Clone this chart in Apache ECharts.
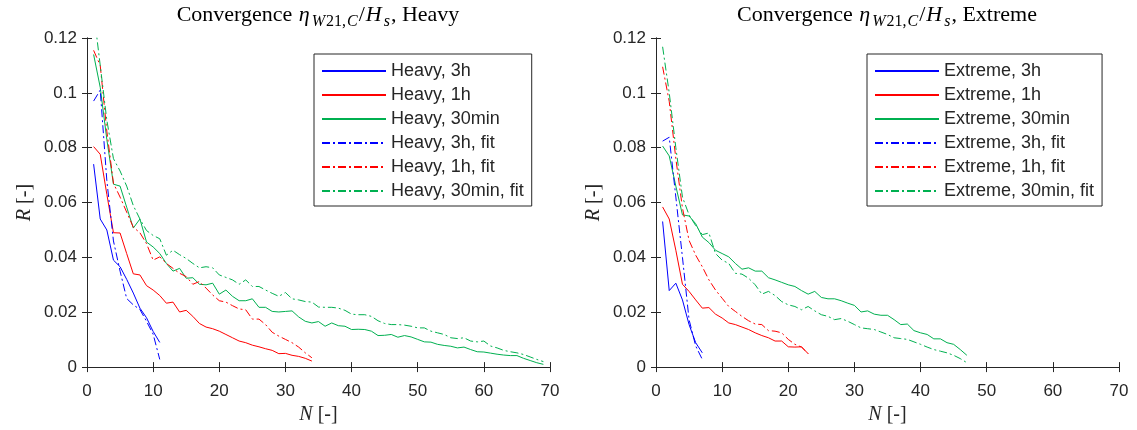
<!DOCTYPE html>
<html>
<head>
<meta charset="utf-8">
<title>Convergence</title>
<script src="https://cdn.jsdelivr.net/npm/echarts@6/dist/echarts.min.js"></script>
<style>
  html, body { margin: 0; padding: 0; background: #fff; }
  #chart { width: 1137px; height: 430px; }
</style>
</head>
<body>
<div id="chart"></div>
<script>
// R, one value per N = 1, 2, 3, ...
const heavy3h = [0.074, 0.054, 0.050, 0.039, 0.0366, 0.032, 0.027, 0.0215, 0.018, 0.013, 0.009];
const heavy1h = [
  0.0804, 0.0776, 0.063, 0.049, 0.0489, 0.0414, 0.034, 0.0336, 0.0297, 0.0281,
  0.0261, 0.0233, 0.0237, 0.0201, 0.0207, 0.0185, 0.0159, 0.0146, 0.014, 0.0131,
  0.0119, 0.0107, 0.0095, 0.0089, 0.008, 0.0074, 0.0067, 0.0061, 0.0049, 0.005,
  0.0043, 0.0039, 0.0032, 0.0022
];
const heavy30min = [
  0.114, 0.102, 0.083, 0.0667, 0.066, 0.0583, 0.0507, 0.054, 0.0456, 0.0438,
  0.0414, 0.0378, 0.035, 0.036, 0.0324, 0.0326, 0.0302, 0.030, 0.0306, 0.0266,
  0.0281, 0.0258, 0.0242, 0.0242, 0.0249, 0.0218, 0.0218, 0.0203, 0.0201, 0.0203,
  0.0205, 0.0183, 0.0167, 0.0161, 0.0166, 0.0149, 0.0161, 0.0151, 0.0149, 0.0137,
  0.0138, 0.0137, 0.0131, 0.0115, 0.0116, 0.0119, 0.0109, 0.0115, 0.011, 0.0101,
  0.0092, 0.0091, 0.0083, 0.0079, 0.0076, 0.007, 0.0073, 0.0064, 0.0056, 0.0055,
  0.0051, 0.0047, 0.0044, 0.0042, 0.0042, 0.0032, 0.0024, 0.0016, 0.001
];
const heavy3hFit = [0.097, 0.101, 0.068, 0.046, 0.035, 0.025, 0.0227, 0.021, 0.0167, 0.012, 0.0028];
const heavy1hFit = [
  0.1155, 0.110, 0.086, 0.067, 0.062, 0.0565, 0.051, 0.049, 0.045, 0.039,
  0.0402, 0.0378, 0.036, 0.0342, 0.033, 0.0302, 0.0312, 0.0288, 0.0263, 0.0242,
  0.0237, 0.0224, 0.0212, 0.0209, 0.0175, 0.0175, 0.0155, 0.0127, 0.0113, 0.0101,
  0.0089, 0.0073, 0.0052, 0.0034
];
const heavy30minFit = [
  0.13, 0.11, 0.09, 0.076, 0.0715, 0.066, 0.0589, 0.054, 0.0498, 0.048,
  0.0468, 0.0408, 0.0426, 0.041, 0.0396, 0.0378, 0.0362, 0.0366, 0.0362, 0.0336,
  0.0327, 0.0318, 0.0302, 0.0318, 0.0294, 0.0294, 0.0281, 0.0269, 0.0258, 0.0272,
  0.0249, 0.0245, 0.0239, 0.0237, 0.0219, 0.0218, 0.0218, 0.0215, 0.0207, 0.0193,
  0.0191, 0.0191, 0.0185, 0.0169, 0.0159, 0.0155, 0.0155, 0.0153, 0.0149, 0.0143,
  0.0143, 0.0131, 0.0125, 0.0119, 0.0107, 0.0104, 0.0107, 0.0095, 0.0092, 0.0095,
  0.0077, 0.007, 0.0061, 0.0056, 0.0052, 0.0046, 0.0037, 0.0028, 0.002
];

const extreme3h = [0.0531, 0.0279, 0.0306, 0.0245, 0.0155, 0.0089, 0.0052];
const extreme1h = [
  0.0584, 0.054, 0.0426, 0.0302, 0.0276, 0.0245, 0.0215, 0.0217, 0.0193, 0.0179,
  0.0161, 0.0155, 0.0146, 0.0137, 0.0125, 0.0115, 0.0107, 0.0095, 0.0095, 0.0074,
  0.0073, 0.0074, 0.0049
];
const extreme30min = [
  0.0806, 0.077, 0.066, 0.0555, 0.0551, 0.0523, 0.0474, 0.0454, 0.0426, 0.0414,
  0.0402, 0.0378, 0.0357, 0.0362, 0.035, 0.035, 0.0326, 0.0318, 0.0309, 0.030,
  0.0294, 0.0279, 0.0266, 0.0276, 0.0254, 0.0249, 0.0249, 0.0242, 0.0233, 0.0225,
  0.0201, 0.0205, 0.0193, 0.0189, 0.0189, 0.0173, 0.0155, 0.0157, 0.0133, 0.0125,
  0.0119, 0.0103, 0.0103, 0.0089, 0.0083, 0.0064, 0.0043
];
const extreme3hFit = [0.0824, 0.0838, 0.062, 0.040, 0.0173, 0.0077, 0.0028];
const extreme1hFit = [
  0.1095, 0.0969, 0.076, 0.058, 0.0462, 0.0408, 0.0366, 0.0318, 0.0281, 0.0251,
  0.0221, 0.0203, 0.0185, 0.0169, 0.0157, 0.0155, 0.0133, 0.0131, 0.0125, 0.0101,
  0.0083, 0.0073, 0.0049
];
const extreme30minFit = [
  0.1168, 0.100, 0.080, 0.062, 0.0555, 0.0516, 0.0483, 0.0489, 0.0414, 0.039,
  0.0378, 0.0342, 0.0339, 0.0324, 0.030, 0.0266, 0.0276, 0.0261, 0.0239, 0.0227,
  0.0221, 0.0209, 0.0221, 0.0205, 0.0191, 0.0185, 0.0173, 0.0177, 0.0167, 0.0155,
  0.0143, 0.014, 0.0137, 0.0128, 0.0119, 0.0107, 0.0104, 0.0101, 0.0092, 0.0083,
  0.0073, 0.0064, 0.0058, 0.0052, 0.0043, 0.0031, 0.0016
];

// axis ranges / ticks
const xMax = 70, xStep = 10;
const yMax = 0.12, yStep = 0.02;

const BLUE = '#0000ff', RED = '#ff0000', GREEN = '#00b050';
const INK = '#262626';
const DASHDOT = [8, 3, 2, 3];

function line(name, values, color, fit, g) {
    return {
        type: 'line',
        name: name,
        xAxisIndex: g * 2,
        yAxisIndex: g * 2,
        data: values.map((v, i) => [i + 1, v]),
        symbol: 'none',
        showSymbol: false,
        lineStyle: { color: color, width: 1, type: fit ? DASHDOT : 'solid' },
        itemStyle: { color: color },
        emphasis: { disabled: true },
        silent: true
    };
}

const mathRich = {
    i: { fontStyle: 'italic', fontFamily: 'Liberation Serif', fontSize: 20, color: INK }
};

function axesFor(g) {
    const tick = { inside: true, length: 5, lineStyle: { color: INK } };
    const axLine = { lineStyle: { color: INK, width: 1 } };
    return {
        x: [
            {
                type: 'value', gridIndex: g, min: 0, max: xMax, interval: xStep,
                axisLine: axLine, axisTick: tick, splitLine: { show: false },
                axisLabel: { color: INK, fontSize: 17, fontFamily: 'Liberation Sans', margin: 16 },
                name: '{i|N} [-]', nameLocation: 'middle', nameGap: 35,
                nameTextStyle: { fontFamily: 'Liberation Serif', fontSize: 20, color: INK, rich: mathRich }
            },
            {
                type: 'value', gridIndex: g, position: 'top', min: 0, max: xMax, interval: xStep,
                axisLine: axLine, axisTick: tick, splitLine: { show: false }, axisLabel: { show: false }
            }
        ],
        y: [
            {
                type: 'value', gridIndex: g, min: 0, max: yMax, interval: yStep,
                axisLine: { show: true, lineStyle: { color: INK, width: 1 } }, axisTick: { show: true, inside: true, length: 5, lineStyle: { color: INK } },
                splitLine: { show: false },
                axisLabel: {
                    color: INK, fontSize: 17, fontFamily: 'Liberation Sans', margin: 10,
                    formatter: v => String(parseFloat(v.toFixed(2)))
                },
                name: '{i|R} [-]', nameLocation: 'middle', nameGap: 52,
                nameTextStyle: { fontFamily: 'Liberation Serif', fontSize: 20, color: INK, rich: mathRich }
            },
            {
                type: 'value', gridIndex: g, position: 'right', min: 0, max: yMax, interval: yStep,
                axisLine: { show: true, lineStyle: { color: INK, width: 1 } }, axisTick: { show: true, inside: true, length: 5, lineStyle: { color: INK } },
                splitLine: { show: false }, axisLabel: { show: false }
            }
        ]
    };
}

function titleFor(left, tail) {
    return {
        text: 'Convergence {i|η}{si|W}{s|21,}{si|C}/{i|H}{si|s}, ' + tail,
        left: left, top: 0, textAlign: 'center', padding: 0,
        textStyle: {
            fontFamily: 'Liberation Serif', fontSize: 22, fontWeight: 'normal', color: '#000', lineHeight: 30,
            rich: {
                i: { fontFamily: 'Liberation Serif', fontSize: 22, fontStyle: 'italic', color: '#000', lineHeight: 30, padding: [0, 1, 0, 1] },
                s: { fontFamily: 'Liberation Serif', fontSize: 16, color: '#000', lineHeight: 16, verticalAlign: 'bottom' },
                si: { fontFamily: 'Liberation Serif', fontSize: 16, fontStyle: 'italic', color: '#000', lineHeight: 16, verticalAlign: 'bottom', padding: [0, 1, 0, 1] }
            }
        }
    };
}

function legendFor(left, names) {
    return {
        left: left, top: 54, orient: 'vertical',
        data: names,
        itemWidth: 64, itemHeight: 12, itemGap: 6,
        itemStyle: { opacity: 0 },
        textStyle: { fontFamily: 'Liberation Sans', fontSize: 18, lineHeight: 18, color: INK },
        borderColor: INK, borderWidth: 1, borderRadius: 0,
        backgroundColor: '#fff',
        padding: [8, 8, 6, 7],
        selectedMode: false
    };
}

const heavyNames = ['Heavy, 3h', 'Heavy, 1h', 'Heavy, 30min', 'Heavy, 3h, fit', 'Heavy, 1h, fit', 'Heavy, 30min, fit'];
const extremeNames = ['Extreme, 3h', 'Extreme, 1h', 'Extreme, 30min', 'Extreme, 3h, fit', 'Extreme, 1h, fit', 'Extreme, 30min, fit'];

const a0 = axesFor(0), a1 = axesFor(1);

const option = {
    animation: false,
    backgroundColor: '#fff',
    title: [titleFor(318, 'Heavy'), titleFor(887, 'Extreme')],
    legend: [legendFor(314, heavyNames), legendFor(867, extremeNames)],
    grid: [
        { left: 87, top: 38, width: 463, height: 331 },
        { left: 656, top: 38, width: 463, height: 331 }
    ],
    xAxis: a0.x.concat(a1.x),
    yAxis: a0.y.concat(a1.y),
    series: [
        line(heavyNames[0], heavy3h, BLUE, false, 0),
        line(heavyNames[1], heavy1h, RED, false, 0),
        line(heavyNames[2], heavy30min, GREEN, false, 0),
        line(heavyNames[3], heavy3hFit, BLUE, true, 0),
        line(heavyNames[4], heavy1hFit, RED, true, 0),
        line(heavyNames[5], heavy30minFit, GREEN, true, 0),
        line(extremeNames[0], extreme3h, BLUE, false, 1),
        line(extremeNames[1], extreme1h, RED, false, 1),
        line(extremeNames[2], extreme30min, GREEN, false, 1),
        line(extremeNames[3], extreme3hFit, BLUE, true, 1),
        line(extremeNames[4], extreme1hFit, RED, true, 1),
        line(extremeNames[5], extreme30minFit, GREEN, true, 1)
    ]
};

const chart = echarts.init(document.getElementById('chart'));
chart.setOption(option);
window.addEventListener('resize', () => chart.resize());
</script>
</body>
</html>
